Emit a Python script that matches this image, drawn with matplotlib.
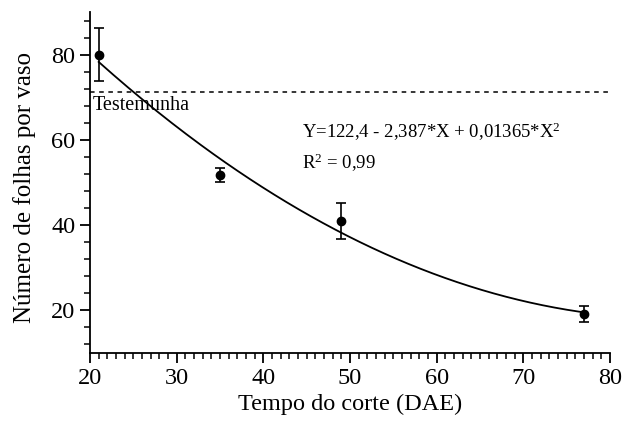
import matplotlib.pyplot as plt
import numpy as np
from matplotlib.ticker import MultipleLocator

plt.rcParams['font.family'] = ['Liberation Serif', 'DejaVu Serif']
plt.rcParams['mathtext.fontset'] = 'custom'
plt.rcParams['mathtext.rm'] = 'Liberation Serif'
plt.rcParams['mathtext.it'] = 'Liberation Serif:italic'

# dados
dias = [21, 35, 49, 77]
folhas = [80.0, 51.7, 41.0, 19.2]
erro = [6.2, 1.6, 4.2, 1.9]
testemunha = 71.3
coef = [122.4, -2.387, 0.01365]

fig = plt.figure(figsize=(6.33, 4.25), dpi=100)
ax = fig.add_axes([90 / 633, 72 / 425, 520 / 633, 341 / 425])

xs = np.linspace(min(dias), max(dias), 200)
ys = coef[0] + coef[1] * xs + coef[2] * xs ** 2
ax.plot(xs, ys, color='black', lw=1.3)
ax.errorbar(dias, folhas, yerr=erro, fmt='o', color='black', ms=6,
            capsize=3.5, elinewidth=1.2, capthick=1.2)
ax.axhline(testemunha, color='black', lw=1.1, ls=(0, (3, 3)))

ax.text(20.3, 70.3, 'Testemunha', fontsize=14.5, va='top', ha='left')
ax.text(44.5, 61.8, r'Y=122,4 - 2,387*X + 0,01365*X$^\mathrm{2}$', fontsize=13.5, va='center')
ax.text(44.5, 54.7, r'R$^\mathrm{2}$ = 0,99', fontsize=13.5, va='center')

ax.set_xlim(20, 80)
ax.set_ylim(10, 90)
ax.xaxis.set_major_locator(MultipleLocator(10))
ax.xaxis.set_minor_locator(MultipleLocator(1))
ax.yaxis.set_major_locator(MultipleLocator(20))
ax.yaxis.set_minor_locator(MultipleLocator(4))
ax.spines['top'].set_visible(False)
ax.spines['right'].set_visible(False)
for s in ('left', 'bottom'):
    ax.spines[s].set_linewidth(1.3)
ax.tick_params(which='major', direction='out', length=7, width=1.3, labelsize=17.5)
ax.tick_params(which='minor', direction='out', length=4, width=1.1)
ax.set_xlabel('Tempo do corte (DAE)', fontsize=17.5)
ax.set_ylabel('Número de folhas por vaso', fontsize=18)
ax.yaxis.set_label_coords(-0.104, 0.485)

fig.savefig('out.png', dpi=100)
